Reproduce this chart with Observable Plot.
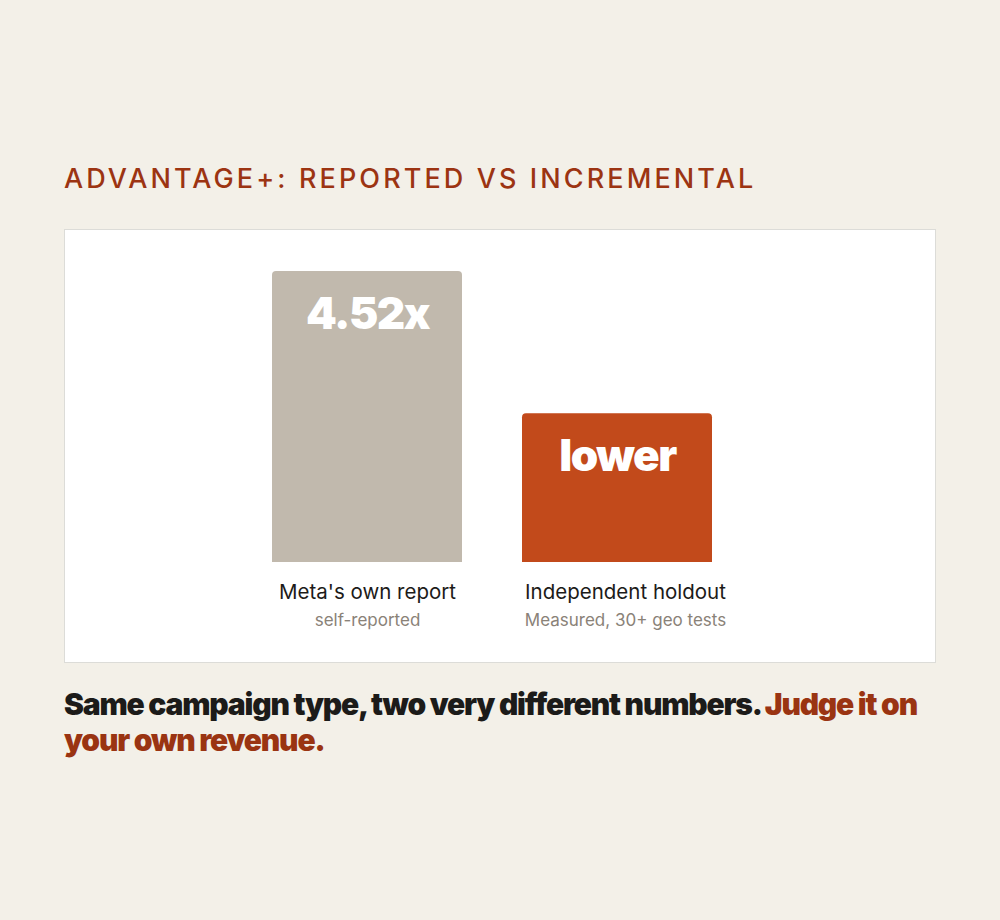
<!DOCTYPE html>
<html>
<head>
<meta charset="utf-8">
<script src="https://cdn.jsdelivr.net/npm/d3@7"></script>
<script src="https://cdn.jsdelivr.net/npm/@observablehq/plot@0.6"></script>
<style>
  html, body { margin: 0; padding: 0; background: #f3f0e8; }
  body { width: 1000px; height: 920px; position: relative; font-family: Inter, "Noto Sans", sans-serif; }
  #title { position: absolute; left: 64px; top: 161px; margin: 0; font-size: 27px; font-weight: 500; letter-spacing: 3.1px; color: #9c3412; line-height: 36px; }
  #card { position: absolute; left: 64px; top: 229px; width: 870px; height: 432px; background: #fff; border: 1px solid #dcdcd8; }
  #card svg { display: block; }
  #card g[font-size="44"], #card g[font-size="44"] text { letter-spacing: -1.5px; }
  #caption { position: absolute; left: 64px; top: 686px; width: 870px; margin: 0; font-size: 30px; font-weight: 900; letter-spacing: -1.2px; line-height: 36px; color: #1c1b19; }
  #caption span { color: #9a3412; }
</style>
</head>
<body>
<h2 id="title">ADVANTAGE+: REPORTED VS INCREMENTAL</h2>
<div id="card"></div>
<p id="caption">Same campaign type, two very different numbers. <span>Judge it on your own revenue.</span></p>
<script>
const names = ["Meta's own report", "Independent holdout"];
const subtitles = ["self-reported", "Measured, 30+ geo tests"];
const values = [4.52, 2.31];
const valueLabels = ["4.52x", "lower"];
const colors = ["#c1b9ad", "#c24a1b"];

const data = names.map((n, i) => ({name: n, sub: subtitles[i], value: values[i], label: valueLabels[i], color: colors[i]}));
const first = data.slice(0, 1);
const second = data.slice(1);

const labelMarks = (rows, dx) => [
  Plot.text(rows, {x: "name", y: () => 0, text: "name", dy: 30, dx, fill: "#1c1b19", fontSize: 20.5, fontWeight: 400, lineAnchor: "middle"}),
  Plot.text(rows, {x: "name", y: () => 0, text: "sub", dy: 58, dx, fill: "#8a8278", fontSize: 17, fontWeight: 400, lineAnchor: "middle"})
];

const chart = Plot.plot({
  width: 870,
  height: 431,
  marginLeft: 207,
  marginRight: 223,
  marginTop: 41,
  marginBottom: 99,
  style: {background: "transparent", fontFamily: "Inter, sans-serif", overflow: "visible"},
  x: {domain: names, paddingInner: 0.24, paddingOuter: 0, axis: null},
  y: {domain: [0, 4.52], axis: null},
  marks: [
    Plot.barY(data, {x: "name", y: "value", fill: "color", ry1: 4}),
    Plot.text(data, {x: "name", y: "value", text: "label", dy: 43, fill: "white", fontSize: 44, fontWeight: 900, lineAnchor: "middle"}),
    ...labelMarks(first, 0),
    ...labelMarks(second, 8)
  ]
});
document.getElementById("card").appendChild(chart);
</script>
</body>
</html>
